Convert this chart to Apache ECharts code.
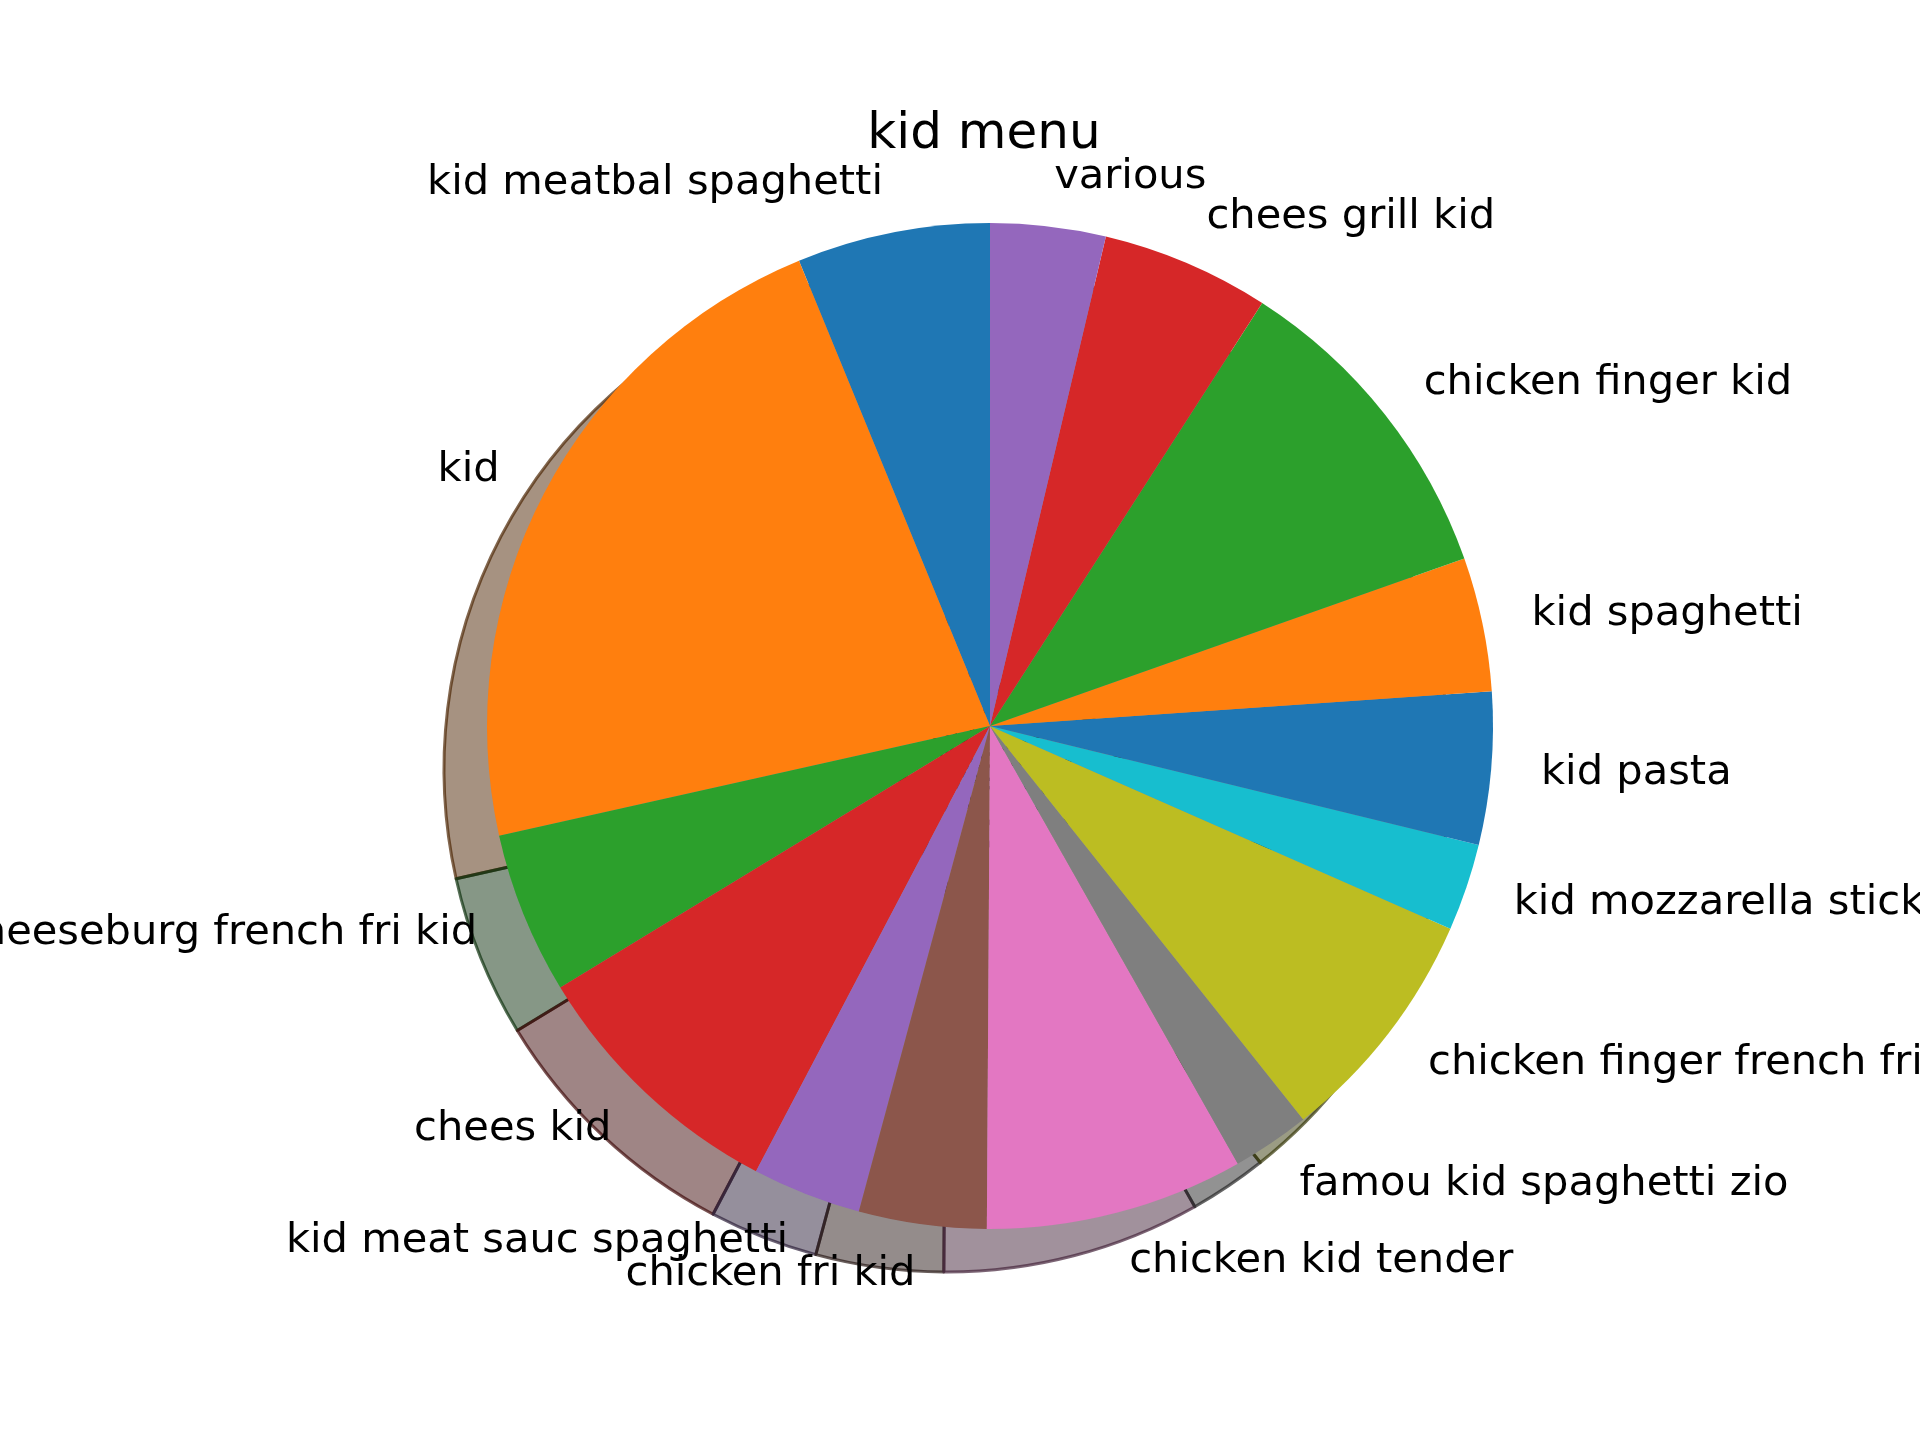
<!DOCTYPE html>
<html lang="en">
<head>
    <meta charset="UTF-8">
    <title>kid menu</title>
    <script src="https://cdn.jsdelivr.net/npm/echarts@6/dist/echarts.min.js"></script>
    <style>
        html, body { margin: 0; padding: 0; background: #fff; }
        #main { width: 1920px; height: 1440px; }
    </style>
</head>
<body>
<div id="main"></div>
<script>
    // 菜品名称 (逆时针, 从12点方向开始)
    const names = [
        'kid meatbal spaghetti', 'kid', 'cheeseburg french fri kid', 'chees kid',
        'kid meat sauc spaghetti', 'chicken fri kid', 'chicken kid tender',
        'famou kid spaghetti zio', 'chicken finger french fri', 'kid mozzarella stick',
        'kid pasta', 'kid spaghetti', 'chicken finger kid', 'chees grill kid', 'various'
    ];
    // 占比 (%)
    const shares = [6.2, 22.3, 5.2, 8.6, 3.5, 4.1, 8.3, 2.5, 7.7, 2.8, 4.9, 4.3, 10.5, 5.4, 3.7];

    const palette = ['#1f77b4', '#ff7f0e', '#2ca02c', '#d62728', '#9467bd',
                     '#8c564b', '#e377c2', '#7f7f7f', '#bcbd22', '#17becf'];

    // 阴影颜色: 原色 * 0.3, 透明度 0.5
    function shade(hex, a) {
        const n = parseInt(hex.slice(1), 16);
        const r = Math.round(((n >> 16) & 255) * 0.3);
        const g = Math.round(((n >> 8) & 255) * 0.3);
        const b = Math.round((n & 255) * 0.3);
        return 'rgba(' + r + ',' + g + ',' + b + ',' + a + ')';
    }

    const mainData = names.map((name, i) => ({
        name: name,
        value: shares[i],
        itemStyle: { color: palette[i % palette.length] }
    }));
    const shadowData = names.map((name, i) => {
        const hex = palette[i % palette.length];
        return { name: name, value: shares[i], itemStyle: { color: shade(hex, 0.5), borderColor: shade(hex, 0.7) } };
    });

    const R = 503;
    const myChart = echarts.init(document.getElementById('main'));
    const option = {
        animation: false,
        title: {
            text: 'kid menu',
            left: 979,
            top: 105,
            textAlign: 'center',
            textStyle: {
                fontFamily: 'DejaVu Sans',
                fontSize: 50,
                fontWeight: 'normal',
                color: '#000'
            }
        },
        series: [
            {
                // 阴影
                type: 'pie',
                center: [947, 769],
                radius: R,
                startAngle: 90,
                clockwise: false,
                silent: true,
                label: { show: false },
                labelLine: { show: false },
                itemStyle: { borderWidth: 3 },
                data: shadowData
            },
            {
                type: 'pie',
                center: [990, 726],
                radius: R,
                startAngle: 90,
                clockwise: false,
                avoidLabelOverlap: false,
                labelLayout: { hideOverlap: false },
                label: {
                    show: true,
                    position: 'outside',
                    alignTo: 'none',
                    distanceToLabelLine: 0,
                    fontFamily: 'DejaVu Sans',
                    fontSize: 41.6,
                    color: '#000'
                },
                labelLine: { show: false, length: 50, length2: 0 },
                itemStyle: { borderWidth: 0 },
                data: mainData
            }
        ]
    };
    myChart.setOption(option);
</script>
</body>
</html>
